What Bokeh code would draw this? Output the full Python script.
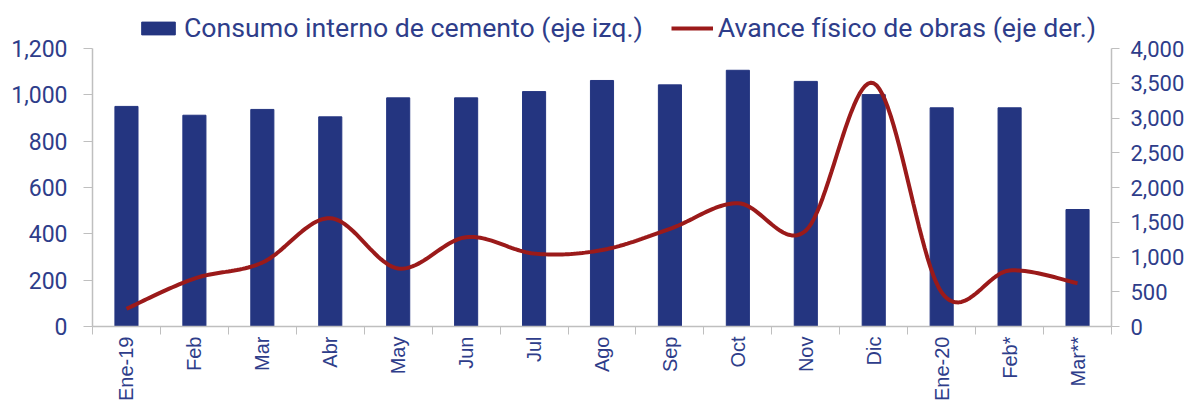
import math
from bokeh.plotting import figure
from bokeh.models import (Range1d, LinearAxis, FixedTicker,
                          NumeralTickFormatter, Legend, LegendItem, ColumnDataSource)
from bokeh.embed import file_html
from bokeh.resources import INLINE

# ---- data ----
months = ["Ene-19", "Feb", "Mar", "Abr", "May", "Jun", "Jul", "Ago", "Sep", "Oct",
          "Nov", "Dic", "Ene-20", "Feb*", "Mar**"]
cemento = [950, 912, 937, 905, 987, 987, 1014, 1062, 1043, 1106, 1058, 1001, 944, 944, 505]
obras = [255, 690, 920, 1558, 835, 1285, 1050, 1100, 1405, 1774, 1380, 3500, 490, 806, 623]
left_ticks = [0, 200, 400, 600, 800, 1000, 1200]
right_ticks = [0, 500, 1000, 1500, 2000, 2500, 3000, 3500, 4000]
left_max, right_max = 1200, 4000

TXT = "#2e3d8a"
BAR = "#243580"
LINE = "#9b1a1a"
GRAY = "#bfbfbf"

W, H = 1187, 403
FL, FR, FT, FB = 92, 1114, 48, 326          # plot area of the axes (pixels)
head = FB / (FB - FT)                        # frame extends to canvas top to host the legend

centers = [i + 0.5 for i in range(len(months))]


def smooth_path(xs, ys, n=24):
    """Excel-like smoothed line (cubic Bezier, Catmull-Rom tangents) through the data points."""
    ox, oy = [], []
    m = len(xs)
    for i in range(m - 1):
        x0, y0 = (xs[i - 1], ys[i - 1]) if i > 0 else (xs[i], ys[i])
        x1, y1 = xs[i], ys[i]
        x2, y2 = xs[i + 1], ys[i + 1]
        x3, y3 = (xs[i + 2], ys[i + 2]) if i + 2 < m else (xs[i + 1], ys[i + 1])
        c1x, c1y = x1 + (x2 - x0) / 6, y1 + (y2 - y0) / 6
        c2x, c2y = x2 - (x3 - x1) / 6, y2 - (y3 - y1) / 6
        for k in range(n):
            t = k / n
            a, b, c, d = (1 - t) ** 3, 3 * (1 - t) ** 2 * t, 3 * (1 - t) * t ** 2, t ** 3
            ox.append(a * x1 + b * c1x + c * c2x + d * x2)
            oy.append(a * y1 + b * c1y + c * c2y + d * y2)
    ox.append(xs[-1])
    oy.append(ys[-1])
    return ox, oy


p = figure(width=W, height=H, output_backend="svg", toolbar_location=None,
           x_range=Range1d(0, len(months)), y_range=Range1d(0, left_max * head),
           min_border_left=FL, min_border_right=W - FR, min_border_top=0,
           min_border_bottom=H - FB)
p.outline_line_color = None
p.xgrid.visible = False
p.ygrid.visible = False
p.background_fill_color = "white"
p.border_fill_color = "white"

p.extra_y_ranges = {"right": Range1d(0, right_max * head)}

bar_src = ColumnDataSource(dict(x=centers, top=cemento))
bars = p.vbar(x="x", top="top", width=0.34, source=bar_src, fill_color=BAR, line_color=BAR)

lx, ly = smooth_path(centers, obras)
line = p.line(lx, ly, y_range_name="right", line_color=LINE, line_width=4)

# x axis
xa = p.xaxis[0]
xa.ticker = FixedTicker(ticks=centers, minor_ticks=list(range(len(months) + 1)))
xa.major_label_overrides = {c: m for c, m in zip(centers, months)}
xa.major_label_orientation = math.pi / 2
xa.major_tick_out = 0
xa.major_tick_in = 0
xa.minor_tick_out = 8
xa.minor_tick_in = 0
xa.minor_tick_line_color = GRAY
xa.axis_line_color = GRAY
xa.axis_line_width = 1.5
xa.major_label_text_font = "Liberation Sans"
xa.major_label_text_font_size = "20px"
xa.major_label_text_color = TXT
xa.major_label_standoff = 2

# left axis
ya = p.yaxis[0]
ya.bounds = (0, left_max)
ya.ticker = FixedTicker(ticks=left_ticks)
ya.formatter = NumeralTickFormatter(format="0,0")
ya.axis_line_color = GRAY
ya.axis_line_width = 1.5
ya.major_tick_line_color = GRAY
ya.major_tick_out = 9
ya.major_tick_in = 0
ya.minor_tick_line_color = None
ya.major_label_text_font = "Roboto"
ya.major_label_text_font_size = "23px"
ya.major_label_text_color = TXT
ya.major_label_standoff = 16

# right axis
ra = LinearAxis(y_range_name="right", ticker=FixedTicker(ticks=right_ticks),
                formatter=NumeralTickFormatter(format="0,0"), bounds=(0, right_max))
ra.axis_line_color = GRAY
ra.axis_line_width = 1.5
ra.major_tick_line_color = GRAY
ra.major_tick_out = 8
ra.major_tick_in = 0
ra.minor_tick_line_color = None
ra.major_label_text_font = "Roboto"
ra.major_label_text_font_size = "22px"
ra.major_label_text_color = TXT
ra.major_label_standoff = 11
p.add_layout(ra, "right")

legend = Legend(items=[LegendItem(label="Consumo interno de cemento (eje izq.)", renderers=[bars]),
                       LegendItem(label="Avance físico de obras (eje der.)", renderers=[line])],
                orientation="horizontal", location=(45, FB - 44),
                padding=0, margin=0, spacing=28, label_standoff=5,
                glyph_width=42, glyph_height=16,
                label_text_font="Roboto", label_text_font_size="26.7px", label_text_color=TXT,
                border_line_color=None, background_fill_alpha=0)
p.add_layout(legend, "center")

open("out.html", "w").write(file_html(p, INLINE))
